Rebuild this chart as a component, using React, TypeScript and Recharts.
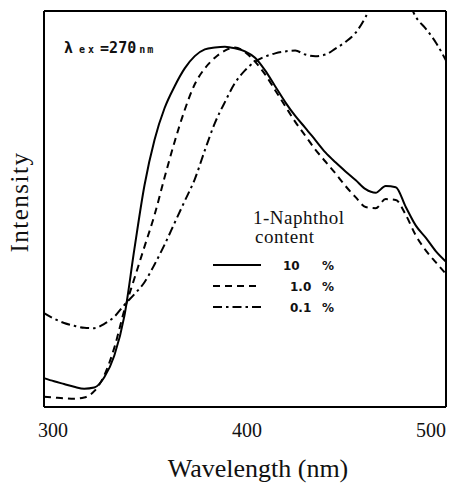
import React from 'react';
import { LineChart, Line, XAxis, YAxis, Legend, Label } from 'recharts';

// wavelength grid (nm) and intensities (arbitrary units, frame = 0..100)
const wavelengths = [
  300, 305, 310, 315, 320, 325, 330, 335, 340, 345, 350, 355, 360, 365, 370, 375, 380, 385, 390, 395,
  400, 405, 410, 415, 420, 425, 430, 435, 440, 445, 450, 455, 460, 465, 470, 475, 480, 485, 490, 495, 500,
];
const naphthol10 = [
  7.3, 6.5, 5.8, 5.1, 4.6, 4.9, 7.5, 13, 23, 40, 56, 67.5, 75.5, 81, 85.5, 88.6, 90.3, 90.8, 91, 90.6,
  89.8, 88.2, 85, 81, 77, 73.5, 70.5, 67.4, 64.3, 61.8, 59.5, 57.3, 55, 54.1, 55.8, 55.5, 50.5, 45.8, 42.7, 39.3, 36.7,
];
const naphthol1 = [
  2.6, 2.4, 2.2, 2.1, 2.4, 4, 8, 15, 24.5, 32.5, 40.5, 48.5, 58, 67, 75, 81.5, 85.5, 88.2, 90, 90.8,
  89.6, 87.2, 84, 80, 76, 72, 68.5, 65, 62, 59, 55.8, 53, 50.5, 50.2, 52.5, 52.3, 48.5, 43.3, 39.5, 36.5, 33.6,
];
const naphthol01 = [
  23.7, 22.3, 21.2, 20.5, 20, 19.9, 21, 22.8, 25.8, 28.5, 31.5, 36, 41, 46.5, 52, 57.5, 64.8, 71.7, 77, 81.8,
  85, 87.2, 88.5, 89.3, 89.8, 90, 89, 88.6, 89, 90.5, 92.2, 94.5, 98.5, 104, 108, 108, 104, 98.5, 95.5, 92, 87.5,
];
const xTicks = [300, 400, 500];

const series = [
  { key: 'c10', label: '10', dash: undefined as string | undefined },
  { key: 'c1', label: '1.0', dash: '7 5' },
  { key: 'c01', label: '0.1', dash: '9 4 2.5 4' },
];

const data = wavelengths.map((w, i) => ({
  w,
  c10: naphthol10[i],
  c1: naphthol1[i],
  c01: naphthol01[i],
}));

const serif = "'Liberation Serif', 'DejaVu Serif', serif";

const WaveTick = ({ x, y, payload }: any) => {
  const shift = payload.value === 300 ? 9 : payload.value === 500 ? -10 : 2;
  return (
    <text x={x + shift} y={y + 28} textAnchor="middle" fontFamily={serif} fontSize={20} fill="#111">
      {payload.value}
    </text>
  );
};

const NaphtholLegend = () => (
  <svg width={150} height={120}>
    <text x={48} y={24} fontFamily={serif} fontSize={19} letterSpacing={0.5} fill="#111">1-Naphthol</text>
    <text x={50} y={43} fontFamily={serif} fontSize={19} letterSpacing={0.5} fill="#111">content</text>
    {series.map((s, i) => (
      <g key={s.key}>
        <line
          x1={8}
          x2={56}
          y1={65 + i * 21}
          y2={65 + i * 21}
          stroke="#000"
          strokeWidth={2}
          strokeDasharray={s.dash}
        />
        <text
          x={i === 0 ? 78 : 85}
          y={70 + i * 21}
          fontFamily="'DejaVu Sans', sans-serif"
          fontWeight="bold"
          fontSize={12}
          fill="#111"
        >
          {s.label}
        </text>
        <text x={117} y={70 + i * 21} fontFamily="'DejaVu Sans', sans-serif" fontWeight="bold" fontSize={12} fill="#111">
          %
        </text>
      </g>
    ))}
  </svg>
);

export default function App() {
  return (
    <div style={{ position: 'absolute', left: 0, top: 0, width: 453, height: 483, background: '#fff' }}>
      <LineChart width={453} height={483} data={data} margin={{ top: 10, right: 6, left: 43, bottom: 46 }}>
        <XAxis
          dataKey="w"
          type="number"
          domain={[300, 500]}
          ticks={xTicks}
          tick={<WaveTick />}
          tickLine={false}
          tickSize={0}
          height={30}
          axisLine={{ stroke: '#000', strokeWidth: 2 }}
        >
          <Label
            content={({ viewBox }: any) => (
              <text
                x={viewBox.x + viewBox.width / 2 + 13}
                y={viewBox.y + 70}
                textAnchor="middle"
                fontFamily={serif}
                fontSize={26}
                fill="#111"
              >
                Wavelength (nm)
              </text>
            )}
          />
        </XAxis>
        <XAxis
          xAxisId="top"
          orientation="top"
          dataKey="w"
          type="number"
          domain={[300, 500]}
          tick={false}
          tickLine={false}
          height={1}
          axisLine={{ stroke: '#000', strokeWidth: 2 }}
        >
          <Label
            content={({ viewBox }: any) => (
              <text x={viewBox.x + 20} y={viewBox.y + 43} fontFamily="'DejaVu Sans Mono', monospace" fontWeight="bold" fontSize={15} fill="#111">
                λ<tspan dx={6} fontSize={10} letterSpacing={3}>ex</tspan>
                <tspan dx={3}>=270</tspan>
                <tspan dx={3} fontSize={10} letterSpacing={2}>nm</tspan>
              </text>
            )}
          />
        </XAxis>
        <YAxis
          type="number"
          domain={[0, 100]}
          allowDataOverflow
          tick={false}
          tickLine={false}
          width={1}
          axisLine={{ stroke: '#000', strokeWidth: 2 }}
        >
          <Label
            content={({ viewBox }: any) => {
              const cx = viewBox.x + viewBox.width - 16;
              const cy = viewBox.y + viewBox.height / 2 - 7;
              return (
                <text
                  x={cx}
                  y={cy}
                  transform={`rotate(-90, ${cx}, ${cy})`}
                  textAnchor="middle"
                  fontFamily={serif}
                  fontSize={25}
                  letterSpacing={1.5}
                  fill="#111"
                >
                  Intensity
                </text>
              );
            }}
          />
        </YAxis>
        <YAxis
          yAxisId="right"
          orientation="right"
          type="number"
          domain={[0, 100]}
          tick={false}
          tickLine={false}
          width={1}
          axisLine={{ stroke: '#000', strokeWidth: 2 }}
        />
        <Legend
          layout="vertical"
          align="center"
          verticalAlign="middle"
          content={() => <NaphtholLegend />}
          wrapperStyle={{ left: 205, top: 200, width: 150 }}
        />
        {series.map((s) => (
          <Line
            key={s.key}
            dataKey={s.key}
            type="monotone"
            stroke="#000"
            strokeWidth={2}
            strokeDasharray={s.dash}
            dot={false}
            activeDot={false}
            isAnimationActive={false}
          />
        ))}
      </LineChart>
    </div>
  );
}
